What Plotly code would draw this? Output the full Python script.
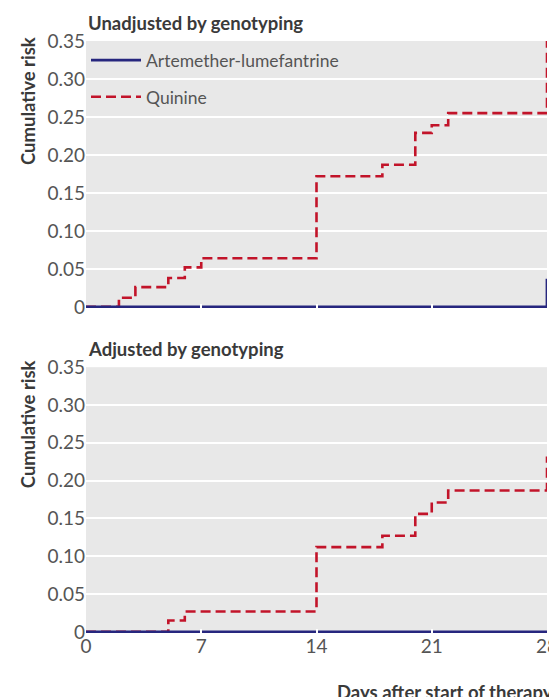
import plotly.graph_objects as go

# ---- Data ----
panel_titles = ["Unadjusted by genotyping", "Adjusted by genotyping"]
series_names = ["Artemether-lumefantrine", "Quinine"]

al_unadj_days = [0, 28]
al_unadj_risk = [0, 0.037]
qn_unadj_days = [0, 2, 3, 5, 6, 7, 14, 18, 20, 21, 22, 28]
qn_unadj_risk = [0, 0.012, 0.026, 0.038, 0.052, 0.064, 0.172, 0.187, 0.229, 0.239, 0.255, 0.352]

al_adj_days = [0, 28]
al_adj_risk = [0, 0]
qn_adj_days = [0, 5, 6, 14, 18, 20, 21, 22, 28]
qn_adj_risk = [0, 0.015, 0.027, 0.112, 0.127, 0.156, 0.171, 0.187, 0.232]

x_ticks = [0, 7, 14, 21, 28]
y_ticks = [0, 0.05, 0.10, 0.15, 0.20, 0.25, 0.30, 0.35]
y_tick_labels = ["0", "0.05", "0.10", "0.15", "0.20", "0.25", "0.30", "0.35"]

NAVY = "#26267e"
RED = "#c2142a"
BG = "#e8e8e8"
TXT = "#555555"
DARK = "#3a3a3a"
FONT = "Lato"

fig = go.Figure()

fig.add_trace(go.Scatter(x=qn_unadj_days, y=qn_unadj_risk, mode="lines", line_shape="hv",
                         line=dict(color=RED, width=2.6, dash="10px,5px"),
                         name=series_names[1], legendgroup="q", legendrank=2,
                         xaxis="x", yaxis="y"))
fig.add_trace(go.Scatter(x=al_unadj_days, y=al_unadj_risk, mode="lines", line_shape="hv",
                         line=dict(color=NAVY, width=2.8),
                         name=series_names[0], legendgroup="a", legendrank=1,
                         xaxis="x", yaxis="y"))
fig.add_trace(go.Scatter(x=qn_adj_days, y=qn_adj_risk, mode="lines", line_shape="hv",
                         line=dict(color=RED, width=2.6, dash="10px,5px"),
                         name=series_names[1], showlegend=False,
                         xaxis="x2", yaxis="y2"))
fig.add_trace(go.Scatter(x=al_adj_days, y=al_adj_risk, mode="lines", line_shape="hv",
                         line=dict(color=NAVY, width=2.8),
                         name=series_names[0], showlegend=False,
                         xaxis="x2", yaxis="y2"))

yaxis_common = dict(range=[-0.0015, 0.35], tickvals=y_ticks, ticktext=y_tick_labels,
                    showgrid=True, gridcolor="white", gridwidth=1.5, zeroline=False,
                    showline=False, ticks="", ticklen=0, automargin=False,
                    tickfont=dict(family=FONT, size=19, color=TXT))
xaxis_common = dict(range=[0, 28], tickvals=x_ticks, showgrid=False, zeroline=False,
                    showline=False, ticks="inside", ticklen=4, tickcolor="white", tickwidth=1.5,
                    automargin=False, ticklabeloverflow="allow",
                    tickfont=dict(family=FONT, size=19, color=TXT))

top_dom = [0.549, 1.0]
bot_dom = [0.0, 0.449]

title_font = dict(family=FONT, size=18.5, color=DARK)

# page body has a small margin, so the figure is sized to fit inside the window
fig.update_layout(
    width=549, height=689,
    margin=dict(l=78, r=10, t=33, b=64),
    paper_bgcolor="white", plot_bgcolor=BG,
    showlegend=True,
    legend=dict(x=0.0, y=0.998, xanchor="left", yanchor="top", bgcolor="rgba(0,0,0,0)",
                font=dict(family=FONT, size=17.5, color=TXT), traceorder="grouped",
                tracegroupgap=11, itemwidth=50),
    xaxis=dict(**xaxis_common, domain=[0, 1], anchor="y", showticklabels=False),
    yaxis=dict(**yaxis_common, domain=top_dom, anchor="x"),
    xaxis2=dict(**xaxis_common, domain=[0, 1], anchor="y2", showticklabels=True),
    yaxis2=dict(**yaxis_common, domain=bot_dom, anchor="x2"),
    annotations=[
        dict(text="<b>" + panel_titles[0] + "</b>", x=0, y=1.0, xref="paper", yref="paper",
             xanchor="left", yanchor="bottom", yshift=5, showarrow=False, font=title_font),
        dict(text="<b>" + panel_titles[1] + "</b>", x=0, y=bot_dom[1], xref="paper", yref="paper",
             xanchor="left", yanchor="bottom", yshift=5, showarrow=False, font=title_font),
        dict(text="<b>Cumulative risk</b>", textangle=-90, x=0, y=1.0, xref="paper", yref="paper",
             xanchor="center", yanchor="top", xshift=-58, yshift=6, showarrow=False, font=title_font),
        dict(text="<b>Cumulative risk</b>", textangle=-90, x=0, y=bot_dom[1], xref="paper", yref="paper",
             xanchor="center", yanchor="top", xshift=-58, yshift=9, showarrow=False, font=title_font),
        dict(text="<b>Days after start of therapy</b>", x=1, y=0, xref="paper", yref="paper",
             xanchor="right", yanchor="top", xshift=8, yshift=-46, showarrow=False, font=title_font),
    ],
)

fig.write_html("out.html")
